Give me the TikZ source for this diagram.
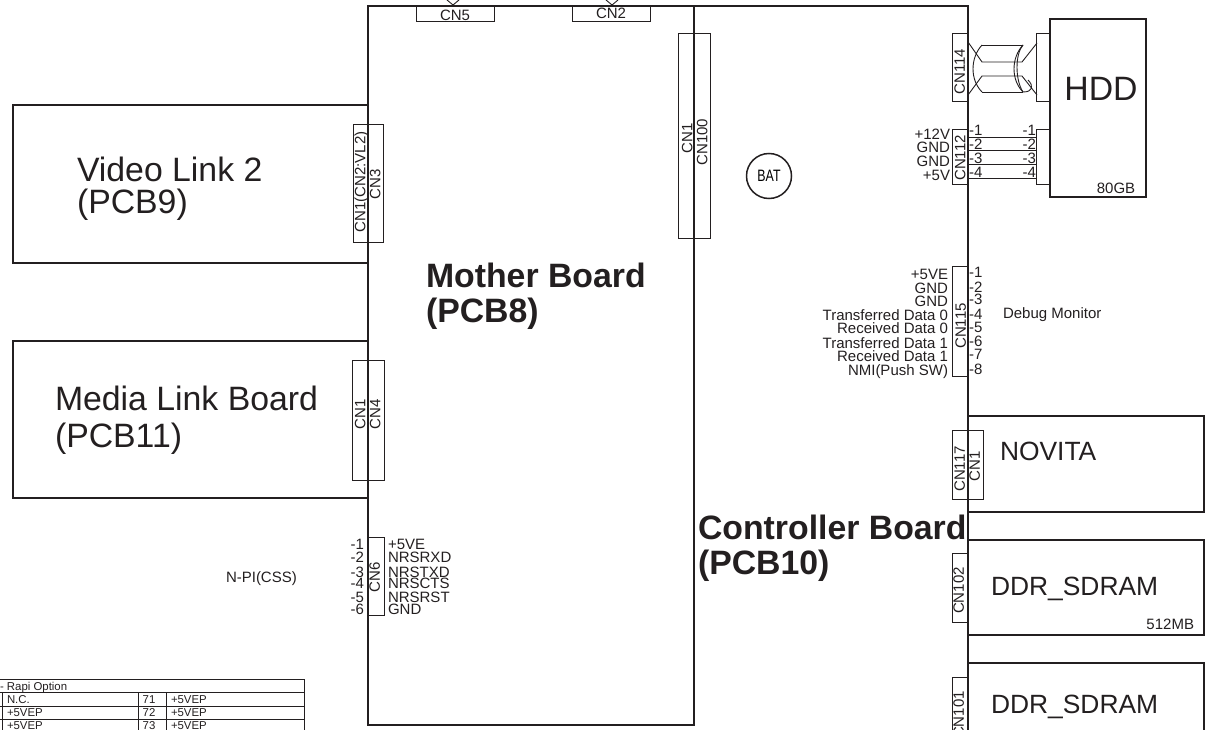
\documentclass[tikz,border=0pt]{standalone}
\usepackage{fontspec}
\setmainfont{Liberation Sans}
\definecolor{inkline}{HTML}{231F20}
\tikzset{
  board/.style={draw=inkline,line width=1.6pt},
  conbox/.style={draw=inkline,line width=.9pt,inner sep=0pt,outer sep=0pt},
  wire/.style={draw=inkline,line width=.9pt},
  lbl/.style={inner sep=0pt,outer sep=0pt,text=inkline,text depth=0pt},
  tiny/.style={lbl,text height=8.2pt,font=\fontsize{11.4}{11.4}\selectfont},
  small/.style={lbl,text height=10.6pt,font=\fontsize{15}{15}\selectfont},
  mid/.style={lbl,text height=18.9pt,font=\fontsize{26.4}{26.4}\selectfont},
  big/.style={lbl,text height=24.2pt,font=\fontsize{33.8}{33.8}\selectfont},
  heavy/.style={lbl,text height=24.2pt,font=\fontsize{33.8}{33.8}\selectfont\bfseries},
}
\begin{document}
\begin{tikzpicture}[x=1pt,y=-1pt]
  \useasboundingbox (0,0) rectangle (1207,730);
  \clip (0,0) rectangle (1207,730);

  % boards
  \draw[board] (368,6) rectangle (694,725);
  \draw[board] (694,725) -- (694,6) -- (968,6) -- (968,740);
  \draw[board] (13,105) rectangle (368,263);
  \draw[board] (13,341) rectangle (368,498);
  \draw[board] (1050,19) rectangle (1146,197);
  \draw[board] (968,416) rectangle (1204,512);
  \draw[board] (968,540) rectangle (1204,635);
  \draw[board] (968,663) rectangle (1204,760);

  \node[big,anchor=west] (vlink) at (77,169) {Video Link 2};
  \node[big,anchor=west] (vlinkpcb) at (77,201) {(PCB9)};
  \node[big,anchor=west] (mlink) at (55,398) {Media Link Board};
  \node[big,anchor=west] (mlinkpcb) at (55,435) {(PCB11)};
  \node[heavy,anchor=west] (mother) at (426,275) {Mother Board};
  \node[heavy,anchor=west] (motherpcb) at (426,310) {(PCB8)};
  \node[heavy,anchor=west] (ctrl) at (698,527) {Controller Board};
  \node[heavy,anchor=west] (ctrlpcb) at (698,562) {(PCB10)};
  \node[big] (hdd) at (1101,88) {HDD};
  \node[small] (hddsize) at (1116,188) {80GB};
  \node[mid,anchor=west] (novita) at (1000,451) {NOVITA};
  \node[mid,anchor=west] (ddra) at (991,586) {DDR\_SDRAM};
  \node[small,anchor=east] (ddrasize) at (1194,624) {512MB};
  \node[mid,anchor=west] (ddrb) at (991,704) {DDR\_SDRAM};
  \node[small,anchor=west] (debug) at (1003,313) {Debug Monitor};
  \node[small,anchor=west] (npi) at (226,577) {N-PI(CSS)};

  % connector boxes
  \node[conbox,minimum width=30pt,minimum height=118pt] (cnvl) at (368.5,183) {};
  \node[conbox,minimum width=32pt,minimum height=120pt] (cnml) at (368,420) {};
  \node[conbox,minimum width=16pt,minimum height=78pt] (cnsix) at (376,576) {};
  \node[conbox,minimum width=78pt,minimum height=15.5pt] (cnfive) at (455,13.75) {};
  \node[conbox,minimum width=78pt,minimum height=15.5pt] (cntwo) at (611,13.75) {};
  \node[conbox,minimum width=32pt,minimum height=205pt] (cnhundred) at (694,135.5) {};
  \node[conbox,minimum width=16pt,minimum height=68pt] (cnhdd) at (960,67) {};
  \node[conbox,minimum width=16pt,minimum height=55pt] (cnpow) at (960,156.5) {};
  \node[conbox,minimum width=16pt,minimum height=110pt] (cndebug) at (960,321) {};
  \node[conbox,minimum width=31pt,minimum height=69pt] (cnnov) at (967.5,464.5) {};
  \node[conbox,minimum width=16pt,minimum height=69pt] (cnddra) at (960,587.5) {};
  \node[conbox,minimum width=16pt,minimum height=69pt] (cnddrb) at (960,711.5) {};
  \node[conbox,minimum width=14pt,minimum height=68pt] (hddsig) at (1043,67) {};
  \node[conbox,minimum width=14pt,minimum height=55pt] (hddpow) at (1043,156.5) {};

  \foreach \n/\x/\y/\t in {a/360/182/CN1(CN2:VL2),b/375/184/CN3,c/360/414/CN1,d/375/414/CN4,
      e/374.5/577/CN6,f/687/138/CN1,g/702/142/CN100,h/959.5/71.5/CN114,i/960/158/CN112,
      j/960.5/326/CN115,k/959.5/469/CN117,l/974.5/466/CN1,m/958.5/590.5/CN102,n/958.5/714.5/CN101} {
    \node[small,rotate=90] (cnt\n) at (\x,\y) {\t};
  }
  \node[small] (cntfive) at (455,15) {CN5};
  \node[small] (cnttwo) at (611,13) {CN2};

  % cable stubs above CN5 and CN2
  \draw[wire] (447,0) -- (453,5) -- (459,0);
  \draw[wire] (606,0) -- (612,5) -- (618,0);

  \node[conbox,circle,board,line width=1.5pt,minimum size=45pt,font=\fontsize{16.5}{16.5}\selectfont] (bat) at (769,176) {\scalebox{.75}[1]{BAT}};

  % HDD cable
  \draw[wire] (968,42) -- (982,62) -- (1022,62) -- (1037,43);
  \draw[wire] (968,95) -- (982,76) -- (1022,76) -- (1037,95);
  \draw[wire] (982,45) -- (1023,45);
  \draw[wire] (982,92) -- (1023,92);
  \draw[wire] (982,45) .. controls (970,58) and (970,80) .. (982,92);
  \draw[wire] (1023,45) .. controls (1011,58) and (1011,80) .. (1023,92);
  \draw[wire] (1023,45) .. controls (1015,54) and (1015,80) .. (1023,92);
  \draw[wire] (1023,92) .. controls (1033,92) and (1034,86) .. (1028,80);

  % wires to HDD power
  \foreach \n/\y in {1/137,2/150,3/164,4/178} {
    \coordinate (wa\n) at (cnpow.east |- 0,\y);
    \coordinate (wb\n) at (hddpow.west |- 0,\y);
    \draw[wire] (wa\n) -- (wb\n);
  }

  \foreach \n/\y in {1/130,2/144,3/158,4/172} {
    \node[small,anchor=west] (pa\n) at (969,\y) {-\n};
    \node[small,anchor=east] (pb\n) at (1036,\y) {-\n};
  }
  \foreach \y/\t in {134/+12V,147/GND,161/GND,175/+5V} {
    \node[small,anchor=east] at (950,\y) {\t};
  }

  % debug port
  \foreach \n/\y in {1/272,2/287,3/299,4/314,5/327,6/341,7/354,8/369} {
    \node[small,anchor=west] (dp\n) at (969,\y) {-\n};
  }
  \foreach \y/\t in {274/+5VE,288/GND,301/GND,315/Transferred Data 0,328/Received Data 0,
      343/Transferred Data 1,356/Received Data 1,370/NMI(Push SW)} {
    \node[small,anchor=east] at (948,\y) {\t};
  }

  % CN6
  \foreach \n/\y/\t in {1/544/+5VE,2/557/NRSRXD,3/572/NRSTXD,4/583/NRSCTS,5/597/NRSRST,6/609/GND} {
    \node[small,anchor=east] (sp\n) at (364,\y) {-\n};
    \node[small,anchor=west] (st\n) at (388,\y) {\t};
  }

  % Rapi table
  \draw[conbox] (0,679) -- (304,679) -- (304,740);
  \foreach \y in {692,706,719} {
    \draw[conbox] (0,\y) -- (304,\y);
  }
  \foreach \x in {2,138,166} {
    \draw[conbox] (\x,692) -- (\x,740);
  }
  \node[tiny,anchor=west] (rapi) at (0,686) {- Rapi Option};
  \foreach \y/\l/\n in {699/N.C./71,712/+5VEP/72,725/+5VEP/73} {
    \node[tiny,anchor=west] at (7,\y) {\l};
    \node[tiny] at (149,\y) {\n};
    \node[tiny,anchor=west] at (171,\y) {+5VEP};
  }
\end{tikzpicture}
\end{document}
